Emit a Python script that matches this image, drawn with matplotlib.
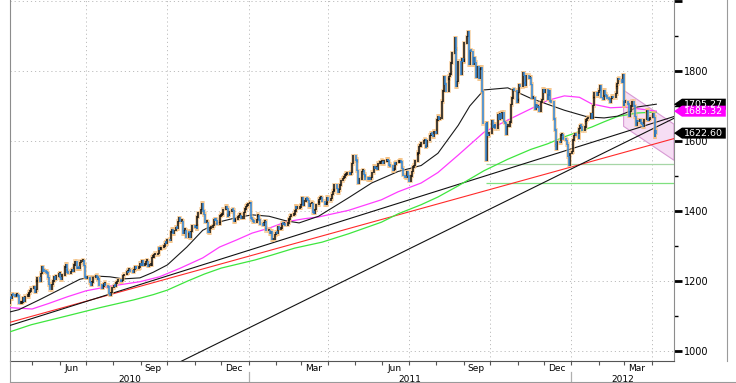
import numpy as np
import pandas as pd
import matplotlib
matplotlib.use("Agg")
import matplotlib.pyplot as plt
import matplotlib.dates as mdates
from matplotlib.patches import Polygon
from matplotlib.lines import Line2D

# daily closes, one row per week (Mon..Fri), 5 Apr 2010 .. 6 Apr 2012
first_day = "2010-04-05"
closes = [
    1135, 1152, 1150, 1162, 1160,
    1157, 1160, 1160, 1157, 1136,
    1137, 1140, 1152, 1143, 1156,
    1156, 1163, 1167, 1172, 1179,
    1183, 1168, 1176, 1200, 1209,
    1200, 1222, 1240, 1228, 1227,
    1225, 1223, 1210, 1190, 1176,
    1190, 1200, 1212, 1206, 1214,
    1220, 1222, 1210, 1204, 1217,
    1240, 1247, 1232, 1226, 1222,
    1228, 1232, 1229, 1246, 1256,
    1235, 1238, 1236, 1253, 1256,
    1258, 1245, 1212, 1208, 1208,
    1206, 1196, 1189, 1197, 1210,
    1214, 1212, 1206, 1208, 1189,
    1180, 1186, 1192, 1192, 1188,
    1183, 1164, 1160, 1168, 1181,
    1186, 1185, 1194, 1198, 1204,
    1200, 1198, 1202, 1215, 1219,
    1226, 1224, 1230, 1232, 1228,
    1226, 1233, 1240, 1237, 1236,
    1238, 1250, 1246, 1257, 1246,
    1249, 1256, 1256, 1242, 1246,
    1246, 1268, 1268, 1275, 1275,
    1278, 1292, 1291, 1292, 1296,
    1298, 1308, 1309, 1307, 1318,
    1315, 1340, 1348, 1335, 1345,
    1353, 1350, 1370, 1381, 1370,
    1370, 1335, 1345, 1345, 1325,
    1339, 1338, 1324, 1342, 1357,
    1354, 1356, 1350, 1383, 1394,
    1405, 1422, 1400, 1390, 1368,
    1368, 1340, 1338, 1351, 1353,
    1358, 1375, 1374, 1373, 1362,
    1367, 1386, 1388, 1390, 1405,
    1413, 1408, 1385, 1388, 1398,
    1404, 1402, 1370, 1372, 1377,
    1383, 1387, 1387, 1380, 1380,
    1395, 1406, 1413, 1415, 1421,
    1423, 1378, 1376, 1370, 1369,
    1375, 1386, 1386, 1374, 1363,
    1360, 1368, 1370, 1350, 1344,
    1345, 1335, 1342, 1318, 1319,
    1333, 1339, 1336, 1355, 1348,
    1350, 1365, 1362, 1363, 1360,
    1366, 1374, 1375, 1385, 1388,
    1392, 1400, 1413, 1408, 1409,
    1410, 1418, 1437, 1417, 1429,
    1435, 1433, 1430, 1413, 1421,
    1422, 1396, 1394, 1404, 1418,
    1426, 1433, 1437, 1437, 1428,
    1418, 1418, 1425, 1439, 1430,
    1436, 1448, 1456, 1460, 1474,
    1465, 1453, 1461, 1474, 1487,
    1493, 1497, 1503, 1505, 1505,
    1508, 1505, 1510, 1535, 1557,
    1544, 1543, 1515, 1479, 1492,
    1513, 1515, 1505, 1500, 1492,
    1490, 1492, 1490, 1496, 1510,
    1528, 1522, 1525, 1520, 1536,
    1537, 1541, 1542, 1536, 1543,
    1543, 1546, 1544, 1530, 1529,
    1516, 1520, 1535, 1534, 1539,
    1540, 1545, 1540, 1522, 1502,
    1497, 1495, 1512, 1501, 1486,
    1500, 1513, 1526, 1530, 1543,
    1563, 1565, 1585, 1585, 1594,
    1601, 1603, 1583, 1586, 1601,
    1616, 1622, 1619, 1613, 1628,
    1623, 1660, 1670, 1663, 1665,
    1713, 1743, 1784, 1763, 1743,
    1777, 1785, 1792, 1823, 1852,
    1895, 1862, 1755, 1770, 1828,
    1791, 1834, 1827, 1829, 1880,
    1898, 1912, 1818, 1858, 1856,
    1818, 1837, 1825, 1782, 1812,
    1778, 1806, 1810, 1741, 1650,
    1545, 1652, 1617, 1615, 1623,
    1658, 1639, 1640, 1648, 1635,
    1676, 1662, 1679, 1666, 1682,
    1655, 1651, 1619, 1642, 1643,
    1654, 1704, 1723, 1746, 1745,
    1712, 1717, 1738, 1760, 1755,
    1795, 1788, 1766, 1758, 1788,
    1780, 1782, 1762, 1722, 1724,
    1692, 1705, 1697, 1698, 1685,
    1712, 1718, 1748, 1740, 1746,
    1720, 1731, 1745, 1714, 1711,
    1663, 1632, 1590, 1577, 1598,
    1595, 1617, 1618, 1607, 1606,
    1602, 1590, 1555, 1532, 1565,
    1570, 1603, 1615, 1620, 1617,
    1608, 1635, 1644, 1642, 1630,
    1640, 1656, 1659, 1664, 1665,
    1677, 1666, 1701, 1725, 1737,
    1730, 1738, 1745, 1758, 1725,
    1720, 1745, 1733, 1729, 1722,
    1720, 1711, 1722, 1728, 1724,
    1736, 1756, 1764, 1778, 1775,
    1768, 1789, 1701, 1711, 1711,
    1706, 1672, 1685, 1700, 1713,
    1700, 1670, 1645, 1659, 1655,
    1660, 1650, 1648, 1641, 1661,
    1684, 1687, 1660, 1662, 1668,
    1679, 1668, 1613, 1630, 1622.6,
]

# moving averages
ma50_dates = ["2010-04-05", "2010-04-16", "2010-05-09", "2010-05-31", "2010-06-24",
              "2010-07-13", "2010-07-28", "2010-08-12", "2010-08-31", "2010-09-15",
              "2010-10-01", "2010-10-23", "2010-11-10", "2010-11-29", "2010-12-18",
              "2011-01-05", "2011-01-24", "2011-02-12", "2011-02-27", "2011-03-21",
              "2011-04-24", "2011-05-20", "2011-06-19", "2011-07-15", "2011-08-03",
              "2011-08-26", "2011-09-08", "2011-09-24", "2011-10-21", "2011-11-16",
              "2011-12-05", "2011-12-24", "2012-01-19", "2012-02-07", "2012-02-22",
              "2012-03-05", "2012-03-15", "2012-04-06"]
ma50_vals = [1111, 1118, 1146, 1174, 1205, 1214, 1212, 1206, 1209, 1225,
             1246, 1297, 1345, 1369, 1381, 1389, 1385, 1372, 1366, 1385,
             1438, 1480, 1513, 1530, 1565, 1645, 1700, 1746, 1752, 1722,
             1705, 1688, 1669, 1666, 1671, 1683, 1697, 1705.27]

ma100_dates = ["2010-04-05", "2010-05-01", "2010-05-20", "2010-06-10", "2010-07-01",
               "2010-07-28", "2010-08-31", "2010-09-22", "2010-10-15", "2010-11-10",
               "2010-11-29", "2010-12-18", "2011-01-05", "2011-01-24", "2011-02-12",
               "2011-03-05", "2011-03-21", "2011-04-24", "2011-05-31", "2011-06-19",
               "2011-07-15", "2011-08-03", "2011-08-26", "2011-09-24", "2011-10-21",
               "2011-11-16", "2011-12-05", "2011-12-24", "2012-01-10", "2012-01-24",
               "2012-02-14", "2012-03-02", "2012-03-20", "2012-04-06"]
ma100_vals = [1124, 1120, 1136, 1155, 1172, 1185, 1198, 1212, 1236, 1266,
              1297, 1317, 1337, 1351, 1369, 1378, 1383, 1402, 1432, 1455,
              1480, 1510, 1560, 1625, 1660, 1692, 1716, 1729, 1725, 1706,
              1695, 1697, 1691, 1685.32]

ma200_dates = ["2010-04-05", "2010-04-30", "2010-06-09", "2010-07-17", "2010-08-24",
               "2010-09-15", "2010-10-01", "2010-10-24", "2010-11-12", "2010-12-01",
               "2011-01-08", "2011-01-27", "2011-02-22", "2011-03-25", "2011-04-24",
               "2011-05-31", "2011-06-19", "2011-07-15", "2011-08-03", "2011-08-26",
               "2011-09-24", "2011-10-21", "2011-11-16", "2011-12-05", "2011-12-24",
               "2012-01-24", "2012-02-07", "2012-02-22", "2012-03-15", "2012-04-06"]
ma200_vals = [1054, 1075, 1100, 1124, 1146, 1161, 1174, 1200, 1220, 1237,
              1260, 1274, 1294, 1311, 1335, 1368, 1392, 1418, 1440, 1472,
              1515, 1548, 1576, 1592, 1612, 1640, 1655, 1670, 1680, 1683]

# trend lines (start date, start price, end date, end price)
red_trend = ("2010-04-06", 1082, "2012-04-26", 1607)
black_trend = ("2010-04-06", 1073, "2012-04-26", 1670)
steep_trend = ("2010-10-17", 971, "2012-04-26", 1665)
support_levels = [1535, 1480]
support_start = "2011-09-26"
channel = [("2012-02-29", 1745), ("2012-04-26", 1648), ("2012-04-26", 1545), ("2012-02-29", 1642)]

tags = [(1705.27, "#000000"), (1685.32, "#ff00ff"), (1622.60, "#000000")]
month_labels = ["Jun", "Sep", "Dec", "Mar", "Jun", "Sep", "Dec", "Mar"]
month_label_dates = ["2010-06-15", "2010-09-15", "2010-12-15", "2011-03-15",
                     "2011-06-15", "2011-09-15", "2011-12-15", "2012-03-15"]
years = ["2010", "2011", "2012"]
year_label_dates = ["2010-08-20", "2011-07-02", "2012-02-28"]
year_breaks = ["2011-01-01", "2012-01-01"]

x_left, x_right = pd.Timestamp("2010-04-06"), pd.Timestamp("2012-04-26")

dates = pd.bdate_range(first_day, periods=len(closes))
close = np.array(closes, dtype=float)
opn = np.r_[close[0], close[:-1]]
lo = np.minimum(opn, close)
hi = np.maximum(np.maximum(opn, close), lo + 4)
down = close < opn

fig = plt.figure(figsize=(7.36, 3.83), dpi=100)
ax = fig.add_axes([10 / 736, 22 / 383, 664 / 736, 361 / 383])
ax.set_xlim(x_left, x_right)
ax.set_ylim(971.4, 2003)

# grid
grid_kw = dict(color="#bdbdbd", lw=0.7, ls=(0, (1.2, 3)), zorder=0)
for y in [1000, 1200, 1400, 1600, 1800, 2000]:
    ax.axhline(y, **grid_kw)
for d in pd.date_range("2010-07-01", "2012-04-01", freq="QS"):
    ax.axvline(d, **grid_kw)

# pink channel
poly = [(mdates.date2num(pd.Timestamp(d)), v) for d, v in channel]
ax.add_patch(Polygon(poly, closed=True, facecolor="#f6ddf4", edgecolor="#d89ad4", lw=0.8, zorder=1))

# support lines
for lvl, col in zip(support_levels, ["#a6d6a6", "#7fe07f"]):
    ax.hlines(lvl, pd.Timestamp(support_start), x_right, color=col, lw=0.9, zorder=2)

# trend lines
for (d0, v0, d1, v1), col in zip([red_trend, black_trend, steep_trend], ["#ff2a2a", "#111111", "#111111"]):
    ax.plot([pd.Timestamp(d0), pd.Timestamp(d1)], [v0, v1], color=col, lw=0.8, zorder=3)

# moving averages
ax.plot(pd.to_datetime(ma200_dates), ma200_vals, color="#3ee63e", lw=0.9, zorder=3)
ax.plot(pd.to_datetime(ma100_dates), ma100_vals, color="#ff3cff", lw=0.9, zorder=3)
ax.plot(pd.to_datetime(ma50_dates), ma50_vals, color="#1a1a1a", lw=0.8, zorder=4)

# candles with orange glow
ax.vlines(dates, lo - 6, hi + 6, color="#f3bd7c", lw=2.6, alpha=0.65, zorder=5)
ax.vlines(dates[~down], lo[~down] - 2, hi[~down] + 2, color="#111111", lw=1.1, zorder=6)
ax.vlines(dates[down], lo[down] - 2, hi[down] + 2, color="#2f86d8", lw=1.1, zorder=6)

# axes styling
ax.spines["top"].set_visible(False)
ax.spines["left"].set_color("#8c8c8c")
ax.spines["right"].set_color("#8c8c8c")
ax.spines["bottom"].set_color("#555555")
ax.yaxis.tick_right()
ax.set_yticks([1000, 1200, 1400, 1600, 1800, 2000])
ax.set_yticklabels(["1000", "1200", "1400", "1600", "1800", ""])
ax.set_yticks([1100, 1300, 1500, 1700, 1900], minor=True)
ax.tick_params(axis="y", which="major", length=6, width=2, color="black", labelsize=7, pad=1)
ax.tick_params(axis="y", which="minor", length=3, width=1, color="black")

ax.set_xticks(pd.to_datetime(month_label_dates))
ax.set_xticklabels(month_labels)
ax.xaxis.set_minor_locator(mdates.MonthLocator())
ax.tick_params(axis="x", which="major", length=0, labelsize=6.5, pad=2)
ax.tick_params(axis="x", which="minor", length=3, width=0.8, color="#555555", direction="out")

for d, lab in zip(year_label_dates, years):
    ax.text(pd.Timestamp(d), -0.05, lab, transform=ax.get_xaxis_transform(),
            ha="center", va="center", fontsize=6.5)
for d in year_breaks:
    ax.plot([pd.Timestamp(d)] * 2, [-0.03, -0.062], transform=ax.get_xaxis_transform(),
            color="#b0b0b0", lw=0.9, clip_on=False)

# price tags on the right
ytr = ax.get_yaxis_transform()
half = 5.5 * (2003 - 971.4) / 361
for val, col in tags:
    pts = [(1.0, val), (1.012, val + half), (1.078, val + half), (1.078, val - half), (1.012, val - half)]
    ax.add_patch(Polygon(pts, closed=True, transform=ytr, facecolor=col, edgecolor="none",
                         clip_on=False, zorder=10))
    ax.text(1.015, val, f"{val:.2f}", transform=ytr, color="white", fontsize=6.8,
            ha="left", va="center", clip_on=False, zorder=11)

# frame lines of the panel
fig.add_artist(Line2D([727 / 736, 727 / 736], [22 / 383, 1], color="#9a9a9a", lw=0.8))
fig.add_artist(Line2D([10 / 736, 1], [1.5 / 383, 1.5 / 383], color="#9a9a9a", lw=0.8))
fig.add_artist(Line2D([10 / 736, 10 / 736], [1.5 / 383, 22 / 383], color="#9a9a9a", lw=0.8))

fig.savefig("out.png", dpi=100)
